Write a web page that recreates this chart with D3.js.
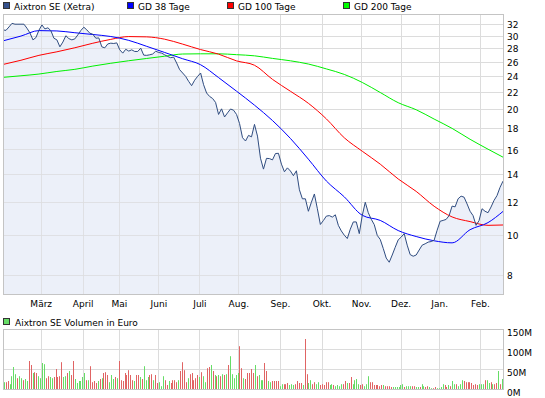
<!DOCTYPE html>
<html>
<head>
<meta charset="UTF-8">
<title>Aixtron SE (Xetra)</title>
<script src="https://cdn.jsdelivr.net/npm/d3@7"></script>
<style type="text/css">
	body{ margin:0; background:#fff; }
	text{ font-family:"DejaVu Sans", sans-serif; font-size:9px; fill:#000; }
</style>
</head>
<body>
<script>
// closing prices, one point every ~1.5 trading days (Feb 2011 - Feb 2012)
var price = [30.96,30.88,31.47,32.1,31.95,31.95,31.95,31.95,31.25,30.45,
	29.3,29.67,30.9,31.82,31.13,31.32,30.82,29.57,29.3,28.2,
	28.95,29.98,29.5,29.3,29.46,30.12,30.86,31.42,30.96,30.4,
	30.23,29.57,29.62,28.2,28.04,28.65,28.77,28.72,28.82,27.73,
	27.23,27.82,27.54,27.73,27.48,27.48,27.99,26.93,26.9,26.98,
	27.1,27.52,27.33,27.23,26.98,26.73,26.55,26.64,25.78,24.85,
	24.4,23.95,23.3,22.75,23.44,23.95,24.4,22.87,21.85,21.44,
	21.2,20.74,19.41,20.02,19.14,19.58,20.0,19.87,19.41,18.47,
	17.07,16.76,17.29,17.15,18.37,17.22,15.24,14.35,15.23,15.21,
	15.1,15.64,15.66,14.75,14.14,14.45,14.2,13.84,14.22,12.8,
	12.18,12.18,11.37,11.95,12.51,11.53,10.57,10.8,11.07,11.1,
	11.01,11.15,10.52,10.2,9.96,9.78,10.3,10.72,10.72,10.05,
	11.11,11.95,11.28,10.88,10.56,9.95,9.73,9.26,8.78,8.58,
	8.93,9.32,9.71,9.86,10.05,9.43,8.95,8.87,8.93,9.18,
	9.43,9.5,9.59,9.62,9.69,10.24,10.76,10.81,10.87,11.1,
	11.7,11.65,12.18,12.36,12.29,11.84,11.37,11.1,10.52,10.8,
	11.53,11.37,11.28,11.64,12.07,12.4,12.97,13.43];

// moving averages, one value every 6 price points (last one = last price point)
var maStep = 6;
var gd38 = [29.14,29.92,30.84,30.78,30.48,30.18,29.85,29.22,28.27,27.33,26.4,25.54,23.79,22.07,20.43,
	18.77,17.0,15.16,13.44,12.31,11.12,10.81,10.22,9.89,9.66,9.55,10.27,10.68,11.36];
var gd100 = [25.58,26.18,26.9,27.43,28.05,28.76,29.38,29.84,29.79,29.41,28.62,27.77,27.08,26.09,25.47,
	23.56,22.06,20.64,18.94,17.06,15.84,14.75,13.59,12.69,11.69,11.02,10.74,10.52,10.54];
var gd200 = [23.82,24.03,24.26,24.61,24.9,25.35,25.75,26.11,26.44,26.77,27.1,27.13,27.13,27.0,26.83,
	26.45,26.1,25.64,24.96,24.21,23.16,21.91,20.71,19.92,18.92,17.97,16.92,16.02,15.33];

var months = ["März","April","Mai","Juni","Juli","Aug.","Sep.","Okt.","Nov.","Dez.","Jan.","Feb."];
var monthPos = [12.6,26.6,38.7,51.9,65.6,78.6,92.5,106.4,119.6,132.8,145.7,159.3];
var priceTicks = [8,10,12,14,16,18,20,22,24,26,28,30,32];

// daily volume in Mio. Euro, g = up day, r = down day
var volume = [17,17,20,12,32,55,37,27,32,27,22,25,20,
	70,60,40,42,40,32,27,65,62,27,32,30,27,
	30,50,30,32,67,30,32,40,45,35,70,25,15,
	20,20,30,40,22,22,57,17,20,15,20,25,27,
	40,42,35,17,35,25,30,27,70,22,20,40,35,
	47,35,22,20,35,35,30,25,57,22,30,35,37,
	22,35,15,17,7,32,22,10,20,15,22,22,17,
	22,45,67,47,17,27,37,40,22,27,35,30,42,
	32,17,52,55,60,45,35,32,35,32,37,35,37,
	60,82,37,27,35,40,107,52,27,25,40,40,50,
	40,60,32,35,22,
	22,65,45,20,17,20,20,20,20,7,12,12,12,
	15,10,12,10,12,20,15,15,10,125,37,15,22,
	12,17,12,17,10,12,10,17,17,10,12,10,7,
	10,7,12,12,20,15,15,30,12,22,25,12,10,
	12,7,12,32,17,17,10,10,10,7,10,10,7,
	7,7,5,5,5,5,5,10,12,5,7,7,7,
	7,7,5,5,5,12,7,5,7,5,2,2,5,
	2,2,5,12,10,5,10,7,20,12,12,7,12,
	22,20,17,17,17,15,10,12,10,12,12,12,22,
	22,15,17,12,12,15,45,12,25];
var volDir = ("g r r g g g g r g g r g g " +
	"r r g r r g g g g r r g g " +
	"r r r r r g g r g r r g g " +
	"g g g g r g r r r r g r g " +
	"r r r g g g r g r r r r r " +
	"r r r g r r g r g g g r r " +
	"g r r g g g r r g r r r r " +
	"g r r r r g r r r r r g r " +
	"g g r r g r g r g r g r g " +
	"r g g g g g r r g r r r r " +
	"r g r g g " +
	"g r r g g r r r r g g r r " +
	"r g g g r r r r g r r g g " +
	"r r g g r r r r r g g r g " +
	"g g g r r g r r g g g g r " +
	"r g g g r r r r r r r g r " +
	"r r r g g g g g g r g g g " +
	"r r g g r g g r r g g r r " +
	"g g g g r r g r g g r g g " +
	"g r r r r r r r r g g g r " +
	"g g r g r r g r g").split(" ");
var volTicks = [0,50,100,150];

var width = 545, height = 398;
var left = 3, right = 503;
var mainTop = 14, mainBottom = 294;
var volTop = 329, volBottom = 389;
var gridColor = "#dcdcdc", borderColor = "#c4c4c4";

var svg = d3.select("body").append("svg")
	.attr("width", width)
	.attr("height", height);

var x = d3.scaleLinear().domain([0, price.length - 1]).range([left, right]);
var y = d3.scaleLog().domain([7.2, 33.8]).range([mainBottom, mainTop]);
var xv = d3.scaleLinear().domain([0, volume.length - 1]).range([left + 0.8, right - 1]);
var yv = d3.scaleLinear().domain([0, 150]).range([volBottom, volTop]);

function maX(i){ return x(Math.min(i * maStep, price.length - 1)); }

//--- main chart ---
var main = svg.append("g");

main.append("rect")
	.attr("x", left).attr("y", mainTop)
	.attr("width", right - left).attr("height", mainBottom - mainTop)
	.attr("fill", "#fff");

main.selectAll(".hgrid")
	.data(priceTicks)
	.enter().append("line")
	.attr("x1", left).attr("x2", right)
	.attr("y1", function(d){ return Math.round(y(d)) + 0.5; })
	.attr("y2", function(d){ return Math.round(y(d)) + 0.5; })
	.attr("stroke", gridColor);

main.selectAll(".vgrid")
	.data(monthPos)
	.enter().append("line")
	.attr("x1", function(d){ return Math.round(x(d)) + 0.5; })
	.attr("x2", function(d){ return Math.round(x(d)) + 0.5; })
	.attr("y1", mainTop).attr("y2", mainBottom)
	.attr("stroke", gridColor);

main.append("path")
	.datum(price)
	.attr("fill", "#e6ebf7")
	.attr("fill-opacity", 0.75)
	.attr("d", d3.area()
		.x(function(d, i){ return x(i); })
		.y0(mainBottom)
		.y1(function(d){ return y(d); }));

// redraw the grid lightly over the fill, like the original
main.selectAll(".hgrid2")
	.data(priceTicks)
	.enter().append("line")
	.attr("x1", left).attr("x2", right)
	.attr("y1", function(d){ return Math.round(y(d)) + 0.5; })
	.attr("y2", function(d){ return Math.round(y(d)) + 0.5; })
	.attr("stroke", gridColor).attr("stroke-opacity", 0.6);
main.selectAll(".vgrid2")
	.data(monthPos)
	.enter().append("line")
	.attr("x1", function(d){ return Math.round(x(d)) + 0.5; })
	.attr("x2", function(d){ return Math.round(x(d)) + 0.5; })
	.attr("y1", mainTop).attr("y2", mainBottom)
	.attr("stroke", gridColor).attr("stroke-opacity", 0.6);

var maLine = d3.line()
	.x(function(d, i){ return maX(i); })
	.y(function(d){ return y(d); })
	.curve(d3.curveMonotoneX);

[[gd200, "#00f000"], [gd100, "#ff0000"], [gd38, "#0000ff"]].forEach(function(s){
	main.append("path")
		.datum(s[0])
		.attr("fill", "none")
		.attr("stroke", s[1])
		.attr("stroke-width", 1)
		.attr("d", maLine);
});

main.append("path")
	.datum(price)
	.attr("fill", "none")
	.attr("stroke", "#2f4c80")
	.attr("stroke-width", 1)
	.attr("stroke-linejoin", "round")
	.attr("d", d3.line()
		.x(function(d, i){ return x(i); })
		.y(function(d){ return y(d); }));

main.append("rect")
	.attr("x", left + 0.5).attr("y", mainTop + 0.5)
	.attr("width", right - left).attr("height", mainBottom - mainTop)
	.attr("fill", "none").attr("stroke", borderColor);

// right axis labels
var yAxis = main.append("g")
	.attr("transform", "translate(" + right + ",0)")
	.call(d3.axisRight(y).tickValues(priceTicks).tickSize(0).tickPadding(4)
		.tickFormat(d3.format("d")));
yAxis.select(".domain").remove();
yAxis.selectAll("text").attr("dy", "0.41em").attr("font-family", null).attr("font-size", null);

// month labels
var xAxis = main.append("g")
	.attr("transform", "translate(0," + mainBottom + ")")
	.call(d3.axisBottom(x).tickValues(monthPos).tickSize(0).tickPadding(7)
		.tickFormat(function(d, i){ return months[i]; }));
xAxis.select(".domain").remove();
xAxis.selectAll("text").attr("font-family", null).attr("font-size", null);

// legend
var legend = [
	{name: "Aixtron SE (Xetra)", color: "#34518c", x: 3},
	{name: "GD 38 Tage", color: "#0000ff", x: 127},
	{name: "GD 100 Tage", color: "#ff0000", x: 227},
	{name: "GD 200 Tage", color: "#00ff00", x: 343}
];
var lg = svg.append("g").selectAll("g").data(legend).enter().append("g");
lg.append("rect")
	.attr("x", function(d){ return d.x + 0.5; }).attr("y", 2.5)
	.attr("width", 6).attr("height", 6)
	.attr("fill", function(d){ return d.color; })
	.attr("stroke", "#333");
lg.append("text")
	.attr("x", function(d){ return d.x + 11; }).attr("y", 9.5)
	.text(function(d){ return d.name; });

//--- volume chart ---
var vol = svg.append("g");

vol.append("rect")
	.attr("x", 3.5).attr("y", 318.5).attr("width", 6).attr("height", 6)
	.attr("fill", "#66dd66").attr("stroke", "#333");
vol.append("text")
	.attr("x", 15).attr("y", 325.5)
	.text("Aixtron SE Volumen in Euro");

vol.selectAll(".vh")
	.data(volTicks)
	.enter().append("line")
	.attr("x1", left).attr("x2", right)
	.attr("y1", function(d){ return Math.round(yv(d)) + 0.5; })
	.attr("y2", function(d){ return Math.round(yv(d)) + 0.5; })
	.attr("stroke", gridColor);

vol.selectAll(".vv")
	.data(monthPos)
	.enter().append("line")
	.attr("x1", function(d){ return Math.round(x(d)) + 0.5; })
	.attr("x2", function(d){ return Math.round(x(d)) + 0.5; })
	.attr("y1", volTop).attr("y2", volBottom)
	.attr("stroke", gridColor);

vol.selectAll(".bar")
	.data(volume)
	.enter().append("rect")
	.attr("x", function(d, i){ return Math.round(xv(i)); })
	.attr("y", function(d){ return yv(d); })
	.attr("width", 1)
	.attr("height", function(d){ return volBottom - yv(d); })
	.attr("fill", function(d, i){ return volDir[i] == "g" ? "#66dd66" : "#e06464"; });

vol.append("rect")
	.attr("x", left + 0.5).attr("y", volTop + 0.5)
	.attr("width", right - left).attr("height", volBottom - volTop)
	.attr("fill", "none").attr("stroke", borderColor);

var vAxis = vol.append("g")
	.attr("transform", "translate(" + right + ",0)")
	.call(d3.axisRight(yv).tickValues(volTicks).tickSize(0).tickPadding(4)
		.tickFormat(function(d){ return d + "M"; }));
vAxis.select(".domain").remove();
vAxis.selectAll("text").attr("dy", "0.75em").attr("font-family", null).attr("font-size", null);
</script>
</body>
</html>
